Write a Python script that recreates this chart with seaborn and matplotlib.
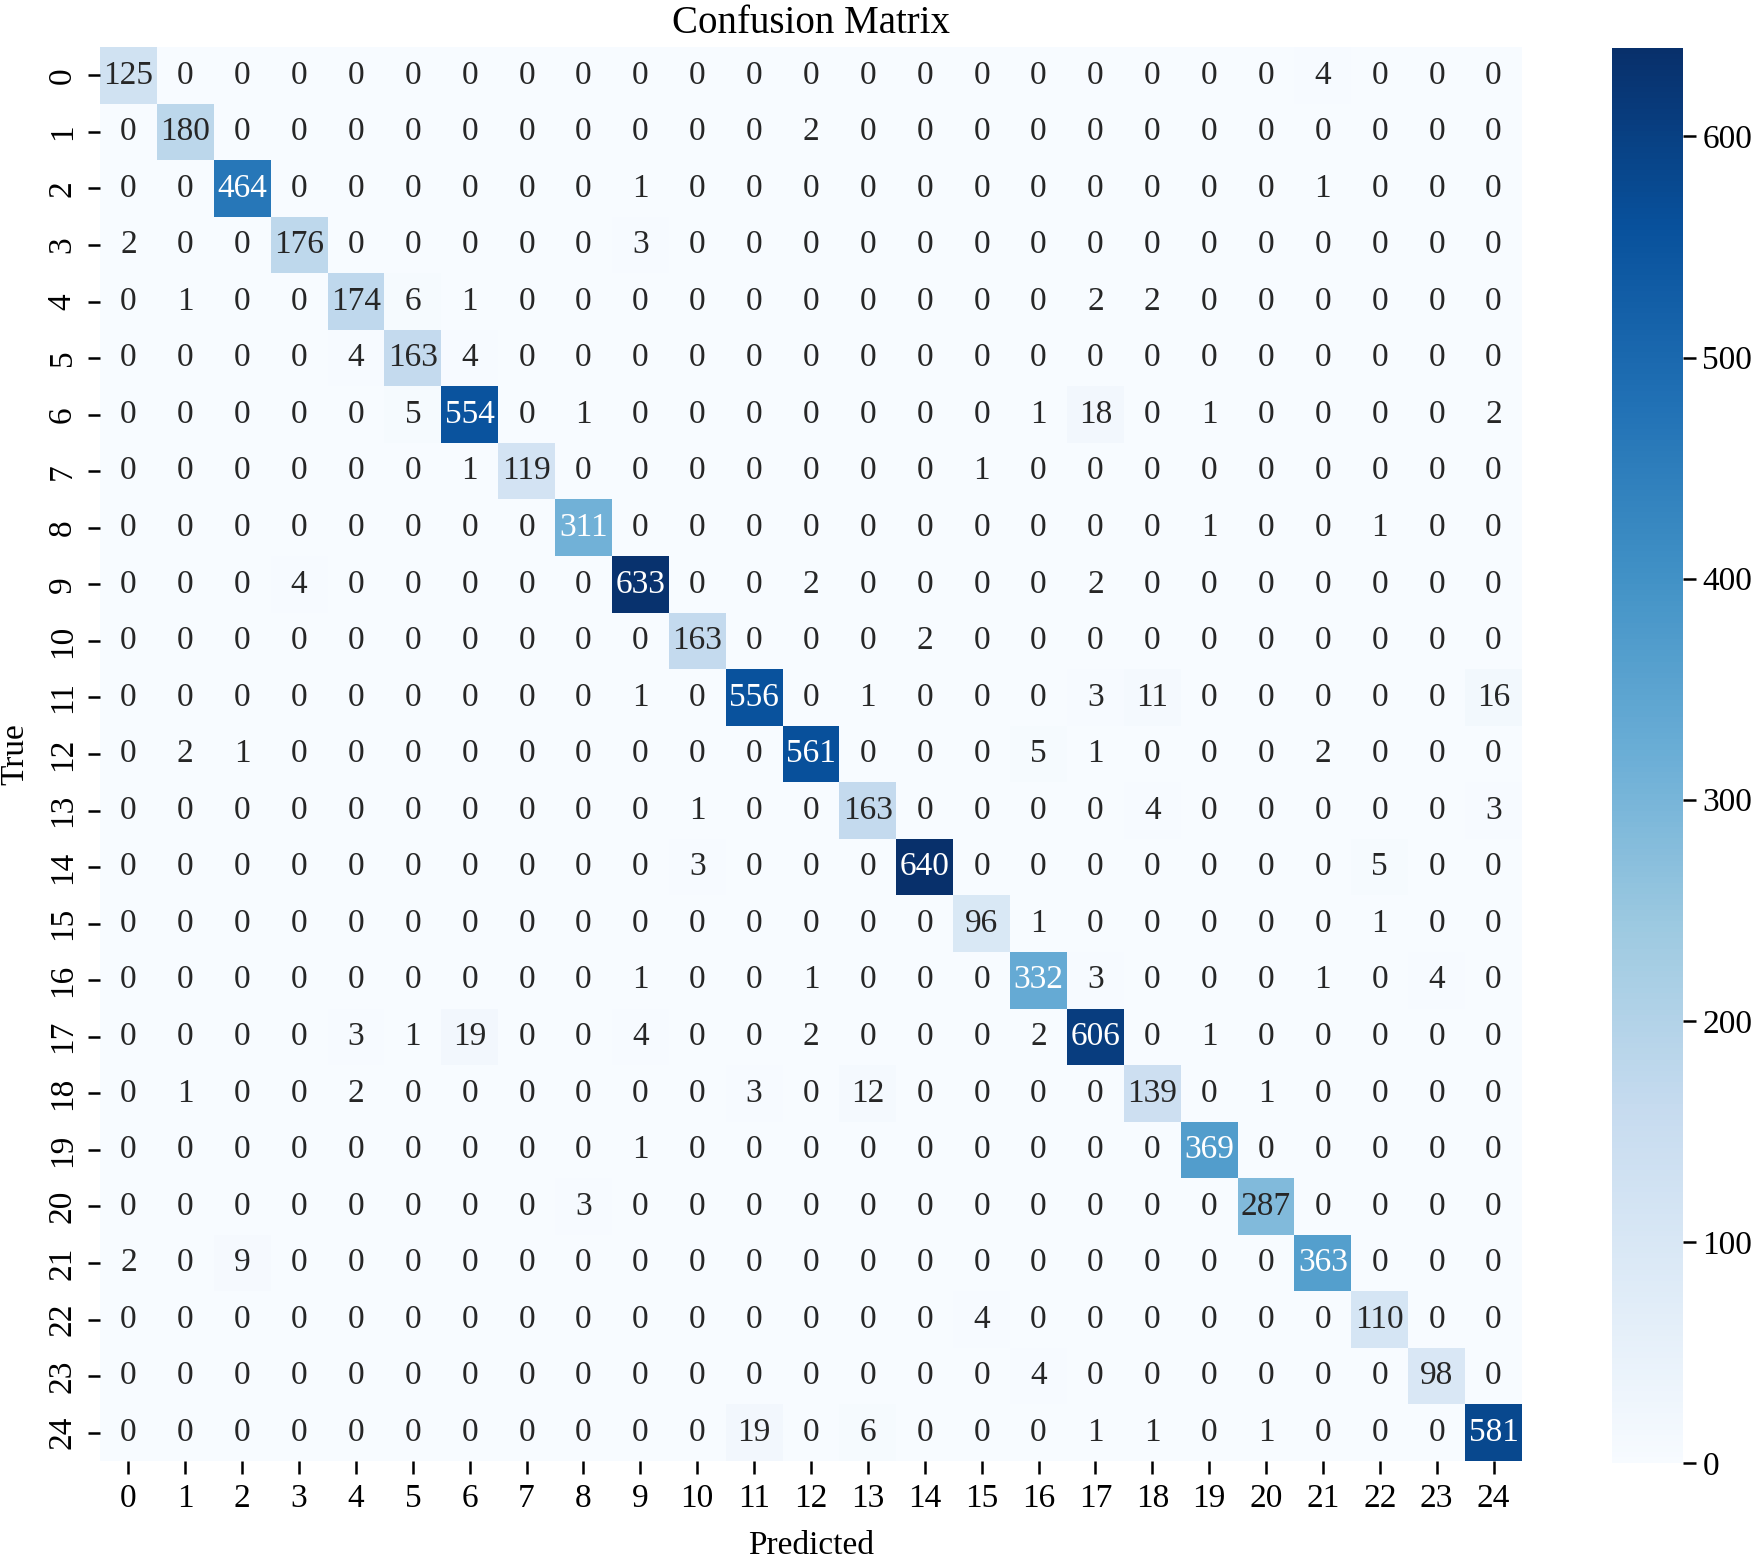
import matplotlib
matplotlib.use("Agg")
import matplotlib.pyplot as plt
import numpy as np
import seaborn as sns

plt.rcParams["font.family"] = ["Liberation Serif", "DejaVu Serif"]

labels = [str(i) for i in range(25)]

# rows = true class, columns = predicted class
row_00 = [125, 0, 0, 0, 0, 0, 0, 0, 0, 0, 0, 0, 0, 0, 0, 0, 0, 0, 0, 0, 0, 4, 0, 0, 0]
row_01 = [0, 180, 0, 0, 0, 0, 0, 0, 0, 0, 0, 0, 2, 0, 0, 0, 0, 0, 0, 0, 0, 0, 0, 0, 0]
row_02 = [0, 0, 464, 0, 0, 0, 0, 0, 0, 1, 0, 0, 0, 0, 0, 0, 0, 0, 0, 0, 0, 1, 0, 0, 0]
row_03 = [2, 0, 0, 176, 0, 0, 0, 0, 0, 3, 0, 0, 0, 0, 0, 0, 0, 0, 0, 0, 0, 0, 0, 0, 0]
row_04 = [0, 1, 0, 0, 174, 6, 1, 0, 0, 0, 0, 0, 0, 0, 0, 0, 0, 2, 2, 0, 0, 0, 0, 0, 0]
row_05 = [0, 0, 0, 0, 4, 163, 4, 0, 0, 0, 0, 0, 0, 0, 0, 0, 0, 0, 0, 0, 0, 0, 0, 0, 0]
row_06 = [0, 0, 0, 0, 0, 5, 554, 0, 1, 0, 0, 0, 0, 0, 0, 0, 1, 18, 0, 1, 0, 0, 0, 0, 2]
row_07 = [0, 0, 0, 0, 0, 0, 1, 119, 0, 0, 0, 0, 0, 0, 0, 1, 0, 0, 0, 0, 0, 0, 0, 0, 0]
row_08 = [0, 0, 0, 0, 0, 0, 0, 0, 311, 0, 0, 0, 0, 0, 0, 0, 0, 0, 0, 1, 0, 0, 1, 0, 0]
row_09 = [0, 0, 0, 4, 0, 0, 0, 0, 0, 633, 0, 0, 2, 0, 0, 0, 0, 2, 0, 0, 0, 0, 0, 0, 0]
row_10 = [0, 0, 0, 0, 0, 0, 0, 0, 0, 0, 163, 0, 0, 0, 2, 0, 0, 0, 0, 0, 0, 0, 0, 0, 0]
row_11 = [0, 0, 0, 0, 0, 0, 0, 0, 0, 1, 0, 556, 0, 1, 0, 0, 0, 3, 11, 0, 0, 0, 0, 0, 16]
row_12 = [0, 2, 1, 0, 0, 0, 0, 0, 0, 0, 0, 0, 561, 0, 0, 0, 5, 1, 0, 0, 0, 2, 0, 0, 0]
row_13 = [0, 0, 0, 0, 0, 0, 0, 0, 0, 0, 1, 0, 0, 163, 0, 0, 0, 0, 4, 0, 0, 0, 0, 0, 3]
row_14 = [0, 0, 0, 0, 0, 0, 0, 0, 0, 0, 3, 0, 0, 0, 640, 0, 0, 0, 0, 0, 0, 0, 5, 0, 0]
row_15 = [0, 0, 0, 0, 0, 0, 0, 0, 0, 0, 0, 0, 0, 0, 0, 96, 1, 0, 0, 0, 0, 0, 1, 0, 0]
row_16 = [0, 0, 0, 0, 0, 0, 0, 0, 0, 1, 0, 0, 1, 0, 0, 0, 332, 3, 0, 0, 0, 1, 0, 4, 0]
row_17 = [0, 0, 0, 0, 3, 1, 19, 0, 0, 4, 0, 0, 2, 0, 0, 0, 2, 606, 0, 1, 0, 0, 0, 0, 0]
row_18 = [0, 1, 0, 0, 2, 0, 0, 0, 0, 0, 0, 3, 0, 12, 0, 0, 0, 0, 139, 0, 1, 0, 0, 0, 0]
row_19 = [0, 0, 0, 0, 0, 0, 0, 0, 0, 1, 0, 0, 0, 0, 0, 0, 0, 0, 0, 369, 0, 0, 0, 0, 0]
row_20 = [0, 0, 0, 0, 0, 0, 0, 0, 3, 0, 0, 0, 0, 0, 0, 0, 0, 0, 0, 0, 287, 0, 0, 0, 0]
row_21 = [2, 0, 9, 0, 0, 0, 0, 0, 0, 0, 0, 0, 0, 0, 0, 0, 0, 0, 0, 0, 0, 363, 0, 0, 0]
row_22 = [0, 0, 0, 0, 0, 0, 0, 0, 0, 0, 0, 0, 0, 0, 0, 4, 0, 0, 0, 0, 0, 0, 110, 0, 0]
row_23 = [0, 0, 0, 0, 0, 0, 0, 0, 0, 0, 0, 0, 0, 0, 0, 0, 4, 0, 0, 0, 0, 0, 0, 98, 0]
row_24 = [0, 0, 0, 0, 0, 0, 0, 0, 0, 0, 0, 19, 0, 6, 0, 0, 0, 1, 1, 0, 1, 0, 0, 0, 581]

cm = np.array([
    row_00, row_01, row_02, row_03, row_04, row_05, row_06, row_07, row_08,
    row_09, row_10, row_11, row_12, row_13, row_14, row_15, row_16, row_17,
    row_18, row_19, row_20, row_21, row_22, row_23, row_24,
])

W, H = 1755, 1556
fig = plt.figure(figsize=(W / 100, H / 100), dpi=100)
ax = fig.add_axes([100 / W, 1 - 1461 / H, 1422 / W, 1414 / H])
cax = fig.add_axes([1612 / W, 1 - 1463 / H, 71 / W, 1415 / H])

fs = 24
sns.heatmap(
    cm,
    annot=True,
    fmt="d",
    cmap="Blues",
    xticklabels=labels,
    yticklabels=labels,
    annot_kws={"fontsize": fs},
    ax=ax,
    cbar_ax=cax,
)

ax.set_title("Confusion Matrix", fontsize=28, pad=10)
ax.set_xlabel("Predicted", fontsize=fs, labelpad=12)
ax.set_ylabel("True", fontsize=fs, labelpad=12)
ax.tick_params(axis="both", labelsize=fs, length=9, width=1.8, pad=7)
plt.setp(ax.get_xticklabels(), rotation=0)
plt.setp(ax.get_yticklabels(), rotation=90, va="center")

cax.tick_params(labelsize=fs, length=9, width=1.8, pad=5)

fig.savefig("out.png", dpi=100)
